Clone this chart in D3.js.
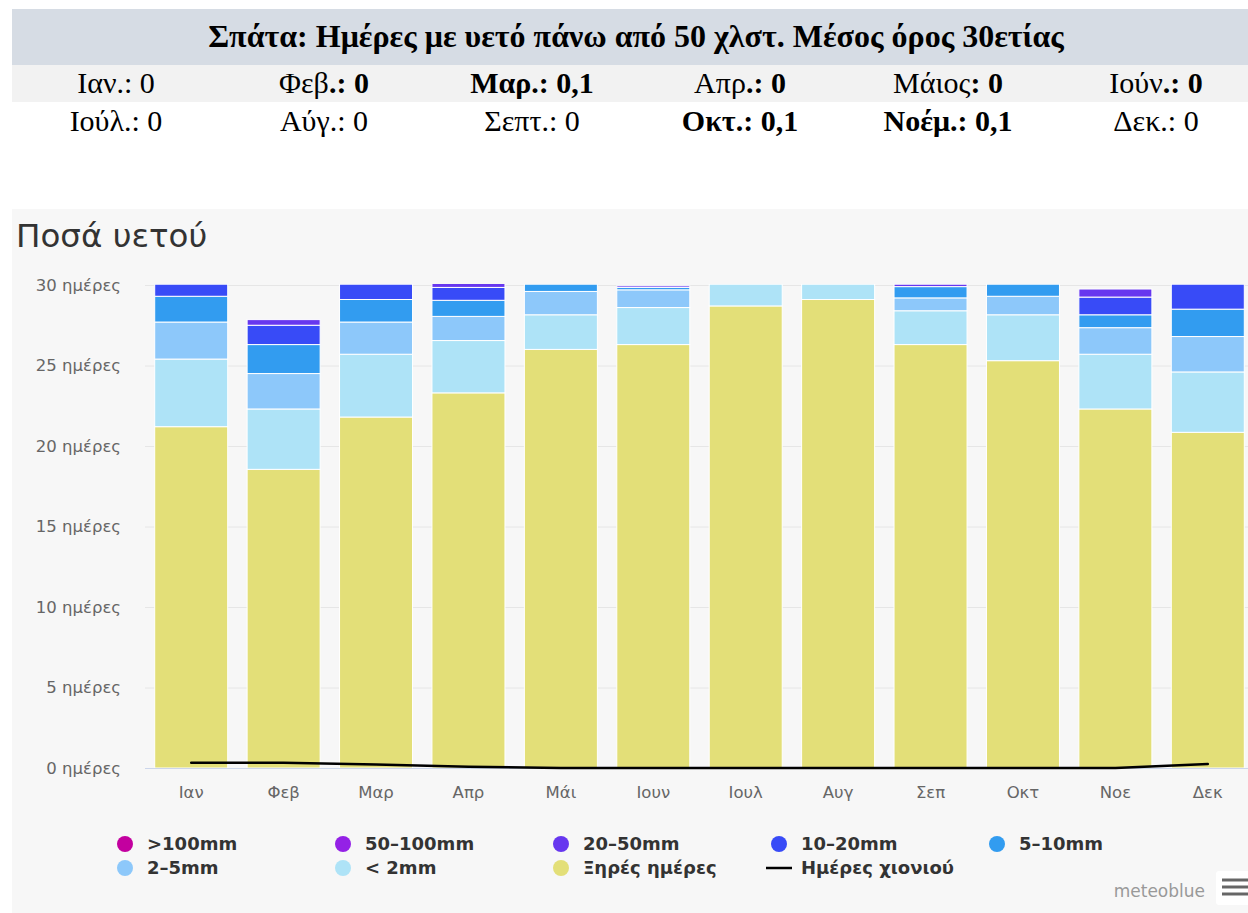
<!DOCTYPE html>
<html>
<head>
<meta charset="utf-8">
<script src="https://cdn.jsdelivr.net/npm/d3@7/dist/d3.min.js"></script>
<style>
  html, body { margin: 0; padding: 0; background: #ffffff; }
  svg { display: block; }
</style>
</head>
<body>
<svg id="chart" width="1248" height="913"></svg>
<script>
// ---- Header table: days with rainfall above 50 mm (30-year mean) ----
const headerTitle = "Σπάτα: Ημέρες με υετό πάνω από 50 χλστ. Μέσος όρος 30ετίας";
const headerNames = ["Ιαν", "Φεβ", "Μαρ", "Απρ", "Μάιος", "Ιούν",
                     "Ιούλ", "Αύγ", "Σεπτ", "Οκτ", "Νοέμ", "Δεκ"];
const heavyRainDays = [0, 0, 0.1, 0, 0, 0, 0, 0, 0, 0.1, 0.1, 0];

// ---- Monthly precipitation amounts (days per month) ----
const months = ["Ιαν", "Φεβ", "Μαρ", "Απρ", "Μάι", "Ιουν",
                "Ιουλ", "Αυγ", "Σεπ", "Οκτ", "Νοε", "Δεκ"];
const dryDays   = [21.2, 18.55, 21.8, 23.3, 26.0, 26.3, 28.7, 29.1, 26.3, 25.3, 22.3, 20.85];
const under2mm  = [4.2, 3.75, 3.9, 3.25, 2.15, 2.3, 1.35, 0.95, 2.1, 2.85, 3.4, 3.75];
const mm2to5    = [2.3, 2.2, 2.0, 1.5, 1.45, 1.1, 0, 0, 0.8, 1.15, 1.65, 2.2];
const mm5to10   = [1.6, 1.8, 1.4, 1.0, 0.45, 0.15, 0, 0, 0.7, 0.75, 0.8, 1.7];
const mm10to20  = [0.75, 1.2, 0.95, 0.8, 0, 0, 0, 0, 0, 0, 1.1, 1.55];
const mm20to50  = [0, 0.35, 0, 0.25, 0, 0.1, 0, 0, 0.15, 0, 0.5, 0];
const mm50to100 = [0, 0, 0, 0, 0, 0, 0, 0, 0, 0, 0, 0];
const over100mm = [0, 0, 0, 0, 0, 0, 0, 0, 0, 0, 0, 0];
const snowDays  = [0.33, 0.33, 0.22, 0.08, 0, 0, 0, 0, 0, 0, 0, 0.25];
const yTicks = [0, 5, 10, 15, 20, 25, 30];

// Series, stacked from the bottom up
const series = [
  { key: "dry",    label: "Ξηρές ημέρες", color: "#e3df78", values: dryDays },
  { key: "lt2",    label: "< 2mm",        color: "#aee3f7", values: under2mm },
  { key: "r2_5",   label: "2–5mm",        color: "#8dc8fa", values: mm2to5 },
  { key: "r5_10",  label: "5–10mm",       color: "#329cf0", values: mm5to10 },
  { key: "r10_20", label: "10–20mm",      color: "#384bf7", values: mm10to20 },
  { key: "r20_50", label: "20–50mm",      color: "#6737ef", values: mm20to50 },
  { key: "r50_100",label: "50–100mm",     color: "#9421e6", values: mm50to100 },
  { key: "r100",   label: ">100mm",       color: "#c3009f", values: over100mm }
];

const svg = d3.select("#chart");
const W = 1248, H = 913;

// ---------------- Header table ----------------
const serif = "'Liberation Serif', 'Times New Roman', serif";
const tableLeft = 12, tableRight = 1260;
const colW = (tableRight - tableLeft) / 6;

svg.append("rect").attr("x", tableLeft).attr("y", 9).attr("width", W - tableLeft).attr("height", 56)
  .attr("fill", "#d6dce4");
svg.append("rect").attr("x", tableLeft).attr("y", 65).attr("width", W - tableLeft).attr("height", 37)
  .attr("fill", "#f2f2f2");

svg.append("text")
  .attr("x", (tableLeft + tableRight) / 2).attr("y", 47)
  .attr("text-anchor", "middle")
  .attr("font-family", serif).attr("font-size", 32).attr("font-weight", "bold")
  .attr("fill", "#000")
  .text(headerTitle);

// emphasis of each cell: "all" = whole cell bold, "value" = only ": value" bold
const emphasis = ["none", "value", "all", "value", "value", "value",
                  "none", "none", "none", "all", "all", "none"];
const fmt = v => String(v).replace(".", ",");

headerNames.forEach((name, i) => {
  const row = Math.floor(i / 6), col = i % 6;
  const punct = name === "Μάιος" ? ": " : ".: ";
  const t = svg.append("text")
    .attr("x", tableLeft + colW * (col + 0.5))
    .attr("y", row === 0 ? 93 : 131)
    .attr("text-anchor", "middle")
    .attr("font-family", serif).attr("font-size", 30).attr("fill", "#000");
  const e = emphasis[i];
  t.append("tspan").attr("font-weight", e === "all" ? "bold" : "normal").text(name);
  t.append("tspan").attr("font-weight", e === "none" ? "normal" : "bold")
    .text(punct + fmt(heavyRainDays[i]));
});

// ---------------- Chart ----------------
const sans = "'DejaVu Sans', sans-serif";
svg.append("rect").attr("x", 12).attr("y", 209).attr("width", W - 12).attr("height", H - 209)
  .attr("fill", "#f7f7f7");

svg.append("text")
  .attr("x", 16).attr("y", 247)
  .attr("font-family", sans).attr("font-size", 32.5).attr("fill", "#333333")
  .text("Ποσά υετού");

const plotLeft = 145, plotRight = 1254, plotTop = 285, plotBottom = 768;

const x = d3.scaleBand().domain(months).range([plotLeft, plotRight])
  .paddingInner(0.21).paddingOuter(0.105);
const y = d3.scaleLinear().domain([0, 30]).range([plotBottom, plotTop]);

// grid lines
const grid = svg.append("g").attr("transform", `translate(${plotLeft},0)`)
  .call(d3.axisLeft(y).tickValues(yTicks).tickSize(-(plotRight - plotLeft)).tickFormat(""));
grid.select(".domain").remove();
grid.selectAll("line").attr("stroke", "#e6e6e6").attr("stroke-width", 1);

// y axis labels
const yAxis = svg.append("g").attr("transform", `translate(${plotLeft},0)`)
  .call(d3.axisLeft(y).tickValues(yTicks).tickSize(0).tickPadding(24)
    .tickFormat(d => d + " ημέρες"));
yAxis.select(".domain").remove();
yAxis.selectAll("text").attr("font-family", sans).attr("font-size", 16.5).attr("fill", "#666666");

// clip bars to the plot area
svg.append("clipPath").attr("id", "plot-clip")
  .append("rect").attr("x", plotLeft).attr("y", plotTop - 1)
  .attr("width", plotRight - plotLeft).attr("height", plotBottom - plotTop + 1);

const table = months.map((m, i) => {
  const row = { month: m };
  series.forEach(s => { row[s.key] = s.values[i]; });
  return row;
});
const stacked = d3.stack().keys(series.map(s => s.key))(table);

const bars = svg.append("g").attr("clip-path", "url(#plot-clip)");
stacked.forEach((layer, li) => {
  bars.append("g").attr("fill", series[li].color)
    .selectAll("rect")
    .data(layer.filter(d => d[1] - d[0] > 0))
    .join("rect")
    .attr("x", d => x(d.data.month))
    .attr("width", x.bandwidth())
    .attr("y", d => y(d[1]))
    .attr("height", d => y(d[0]) - y(d[1]))
    .attr("stroke", "#ffffff").attr("stroke-width", 1);
});

// axis base line
svg.append("line")
  .attr("x1", plotLeft).attr("x2", plotRight)
  .attr("y1", plotBottom + 0.5).attr("y2", plotBottom + 0.5)
  .attr("stroke", "#ccd6eb").attr("stroke-width", 1);

// snow days line
const snowLine = d3.line()
  .x((d, i) => x(months[i]) + x.bandwidth() / 2)
  .y(d => y(d));
svg.append("path").datum(snowDays)
  .attr("d", snowLine)
  .attr("fill", "none").attr("stroke", "#000000").attr("stroke-width", 2.5)
  .attr("stroke-linejoin", "round").attr("stroke-linecap", "round");

// x axis labels
const xAxis = svg.append("g").attr("transform", `translate(0,${plotBottom})`)
  .call(d3.axisBottom(x).tickSize(0).tickPadding(18));
xAxis.select(".domain").remove();
xAxis.selectAll("text").attr("font-family", sans).attr("font-size", 16.5).attr("fill", "#666666");

// ---------------- Legend ----------------
const legendItems = [
  series[7], series[6], series[5], series[4], series[3],
  series[2], series[1], series[0],
  { key: "snow", label: "Ημέρες χιονιού", color: "#000000", line: true }
];
const legend = svg.append("g").attr("font-family", sans).attr("font-size", 18)
  .attr("font-weight", "bold");
legendItems.forEach((item, i) => {
  const row = Math.floor(i / 5), col = i % 5;
  const cx = 125 + 218 * col, cy = 844 + 24 * row;
  if (item.line) {
    legend.append("line").attr("x1", cx - 13).attr("x2", cx + 13)
      .attr("y1", cy).attr("y2", cy).attr("stroke", item.color).attr("stroke-width", 2.5);
  } else {
    legend.append("circle").attr("cx", cx).attr("cy", cy).attr("r", 8).attr("fill", item.color);
  }
  legend.append("text").attr("x", cx + 22).attr("y", cy).attr("dy", "0.35em")
    .attr("fill", "#333333").text(item.label);
});

// credit and menu button
svg.append("text").attr("x", 1205).attr("y", 897).attr("text-anchor", "end")
  .attr("font-family", sans).attr("font-size", 17).attr("fill", "#999999")
  .text("meteoblue");
const menu = svg.append("g");
menu.append("rect").attr("x", 1216).attr("y", 871).attr("width", 40).attr("height", 34)
  .attr("rx", 3).attr("fill", "#ffffff");
[880, 887, 894].forEach(yy => {
  menu.append("line").attr("x1", 1222).attr("x2", 1250).attr("y1", yy).attr("y2", yy)
    .attr("stroke", "#666666").attr("stroke-width", 3);
});
</script>
</body>
</html>
